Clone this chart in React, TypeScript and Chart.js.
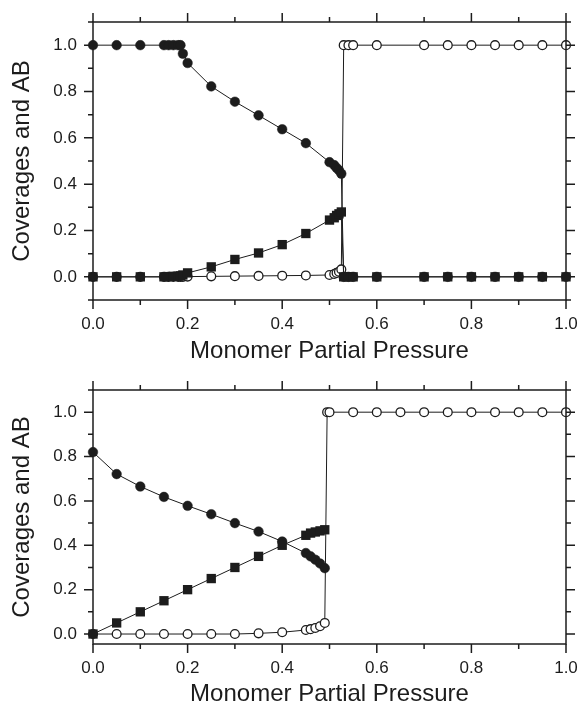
import React, { useEffect, useRef } from 'react';
import { Chart, registerables } from 'chart.js';

Chart.register(...registerables);

// ---- Data ----
const TOP_X = [0, 0.05, 0.1, 0.15, 0.16, 0.17, 0.18, 0.185, 0.19, 0.2, 0.25, 0.3, 0.35, 0.4, 0.45, 0.5, 0.51, 0.515, 0.52, 0.525, 0.53, 0.54, 0.55, 0.6, 0.7, 0.75, 0.8, 0.85, 0.9, 0.95, 1.0];
const TOP_FILLED = [1, 1, 1, 1, 1, 1, 1, 1, 0.963, 0.923, 0.822, 0.756, 0.697, 0.637, 0.577, 0.495, 0.482, 0.47, 0.46, 0.445, 0, 0, 0, 0, 0, 0, 0, 0, 0, 0, 0];
const TOP_SQUARE = [0, 0, 0, 0, 0.001, 0.002, 0.003, 0.004, 0.008, 0.017, 0.043, 0.075, 0.103, 0.139, 0.187, 0.245, 0.255, 0.265, 0.272, 0.28, 0, 0, 0, 0, 0, 0, 0, 0, 0, 0, 0];
const TOP_OPEN = [0, 0, 0, 0, 0, 0, 0, 0, 0, 0.001, 0.002, 0.003, 0.004, 0.005, 0.006, 0.008, 0.012, 0.017, 0.022, 0.032, 1, 1, 1, 1, 1, 1, 1, 1, 1, 1, 1];

const BOT_X = [0, 0.05, 0.1, 0.15, 0.2, 0.25, 0.3, 0.35, 0.4, 0.45, 0.46, 0.47, 0.48, 0.49, 0.495, 0.5, 0.55, 0.6, 0.65, 0.7, 0.75, 0.8, 0.85, 0.9, 0.95, 1.0];
const BOT_FILLED = [0.82, 0.721, 0.665, 0.618, 0.578, 0.54, 0.5, 0.462, 0.417, 0.365, 0.35, 0.335, 0.318, 0.297, null, null, null, null, null, null, null, null, null, null, null, null];
const BOT_SQUARE = [0, 0.05, 0.1, 0.15, 0.2, 0.25, 0.3, 0.35, 0.4, 0.445, 0.455, 0.46, 0.465, 0.47, null, null, null, null, null, null, null, null, null, null, null, null];
const BOT_OPEN = [0, 0, 0, 0, 0, 0, 0, 0.003, 0.008, 0.018, 0.022, 0.027, 0.035, 0.05, 1, 1, 1, 1, 1, 1, 1, 1, 1, 1, 1, 1];

const X_LABEL_TICKS = [0, 0.2, 0.4, 0.6, 0.8, 1.0];
const X_MINOR_TICKS = [0.1, 0.3, 0.5, 0.7, 0.9];
const Y_LABEL_TICKS = [0, 0.2, 0.4, 0.6, 0.8, 1.0];
const Y_MINOR_TICKS = [-0.1, 0.1, 0.3, 0.5, 0.7, 0.9, 1.1];

const X_TITLE = 'Monomer Partial Pressure';
const Y_TITLE = 'Coverages and AB';

const FONT = '"Liberation Sans", Arial, Helvetica, sans-serif';
const INK = '#1c1c1c';

function toPoints(xs: number[], ys: (number | null)[]) {
  const out: { x: number; y: number }[] = [];
  xs.forEach((x, i) => {
    const y = ys[i];
    if (y !== null && y !== undefined) out.push({ x, y });
  });
  return out;
}

const framePlugin = {
  id: 'frameTicks',
  afterDatasetsDraw(chart: any) {
    const { ctx, chartArea, scales } = chart;
    const { left, right, top, bottom } = chartArea;
    const xs = scales.x;
    const ys = scales.y;
    ctx.save();
    ctx.strokeStyle = INK;
    ctx.lineWidth = 1.5;
    ctx.lineCap = 'butt';
    ctx.strokeRect(left, top, right - left, bottom - top);
    const MAJ = 9;
    const MIN = 5;
    ctx.beginPath();
    const xTicks = [...X_LABEL_TICKS.map((v) => [v, MAJ]), ...X_MINOR_TICKS.map((v) => [v, MIN])];
    xTicks.forEach(([v, len]) => {
      const px = xs.getPixelForValue(v);
      ctx.moveTo(px, bottom);
      ctx.lineTo(px, bottom + len);
      ctx.moveTo(px, top);
      ctx.lineTo(px, top - len);
    });
    const yTicks = [...Y_LABEL_TICKS.map((v) => [v, MAJ]), ...Y_MINOR_TICKS.map((v) => [v, MIN])];
    yTicks.forEach(([v, len]) => {
      if (v < ys.min - 1e-9 || v > ys.max + 1e-9) return;
      const py = ys.getPixelForValue(v);
      ctx.moveTo(left, py);
      ctx.lineTo(left - len, py);
      ctx.moveTo(right, py);
      ctx.lineTo(right + len, py);
    });
    ctx.stroke();
    ctx.restore();
  },
};

type PanelProps = {
  xs: number[];
  filled: (number | null)[];
  squares: (number | null)[];
  open: (number | null)[];
  yMin: number;
  height: number;
  padTop: number;
  xAxisHeight: number;
  titlePadBottom: number;
};

function Panel(props: PanelProps) {
  const ref = useRef<HTMLCanvasElement | null>(null);
  useEffect(() => {
    if (!ref.current) return;
    const common = {
      showLine: true,
      borderColor: INK,
      borderWidth: 1,
      clip: false as any,
    };
    const chart = new Chart(ref.current, {
      type: 'scatter',
      data: {
        datasets: [
          {
            ...common,
            label: 'AB',
            data: toPoints(props.xs, props.squares),
            pointStyle: 'rect',
            pointRadius: 6.6,
            pointBackgroundColor: INK,
            pointBorderColor: INK,
            pointBorderWidth: 0,
          },
          {
            ...common,
            label: 'A',
            data: toPoints(props.xs, props.filled),
            pointStyle: 'circle',
            pointRadius: 4.8,
            pointBackgroundColor: INK,
            pointBorderColor: INK,
            pointBorderWidth: 0.5,
          },
          {
            ...common,
            label: 'B',
            data: toPoints(props.xs, props.open),
            pointStyle: 'circle',
            pointRadius: 4.4,
            pointBackgroundColor: '#ffffff',
            pointBorderColor: INK,
            pointBorderWidth: 1.3,
          },
        ],
      },
      options: {
        animation: false,
        responsive: false,
        devicePixelRatio: 1,
        layout: { padding: { top: props.padTop, right: 13, left: 0, bottom: 0 } },
        plugins: { legend: { display: false }, tooltip: { enabled: false } },
        scales: {
          x: {
            type: 'linear',
            min: 0,
            max: 1,
            afterBuildTicks: (s: any) => {
              s.ticks = X_LABEL_TICKS.map((v) => ({ value: v }));
            },
            afterFit: (s: any) => {
              s.height = props.xAxisHeight;
              s.paddingLeft = 0;
              s.paddingRight = 0;
            },
            grid: { display: false, drawTicks: false },
            border: { display: false },
            ticks: {
              color: INK,
              font: { family: FONT, size: 17 },
              padding: 14,
              maxRotation: 0,
              autoSkip: false,
              callback: (v: any) => Number(v).toFixed(1),
            },
            title: {
              display: true,
              text: X_TITLE,
              color: INK,
              font: { family: FONT, size: 24, lineHeight: 1 },
              padding: { top: 0, bottom: props.titlePadBottom },
            },
          },
          y: {
            type: 'linear',
            min: props.yMin,
            max: 1.1,
            afterBuildTicks: (s: any) => {
              s.ticks = Y_LABEL_TICKS.map((v) => ({ value: v }));
            },
            afterFit: (s: any) => {
              s.width = 93;
              s.paddingTop = 0;
              s.paddingBottom = 0;
            },
            grid: { display: false, drawTicks: false },
            border: { display: false },
            ticks: {
              color: INK,
              font: { family: FONT, size: 17 },
              padding: 16,
              autoSkip: false,
              callback: (v: any) => Number(v).toFixed(1),
            },
            title: {
              display: true,
              text: Y_TITLE,
              color: INK,
              font: { family: FONT, size: 24, lineHeight: 1 },
              padding: { top: 10, bottom: 0 },
            },
          },
        },
      },
      plugins: [framePlugin],
    } as any);
    return () => chart.destroy();
  }, []);
  return <canvas ref={ref} width={579} height={props.height} style={{ display: 'block', width: 579, height: props.height }} />;
}

export default function App() {
  return (
    <div style={{ position: 'absolute', left: 0, top: 0, width: 579, height: 706, background: '#fff' }}>
      <Panel xs={TOP_X} filled={TOP_FILLED} squares={TOP_SQUARE} open={TOP_OPEN} yMin={-0.1} height={370} padTop={22} xAxisHeight={70} titlePadBottom={7} />
      <Panel xs={BOT_X} filled={BOT_FILLED} squares={BOT_SQUARE} open={BOT_OPEN} yMin={-0.045} height={336} padTop={20} xAxisHeight={62} titlePadBottom={0} />
    </div>
  );
}
